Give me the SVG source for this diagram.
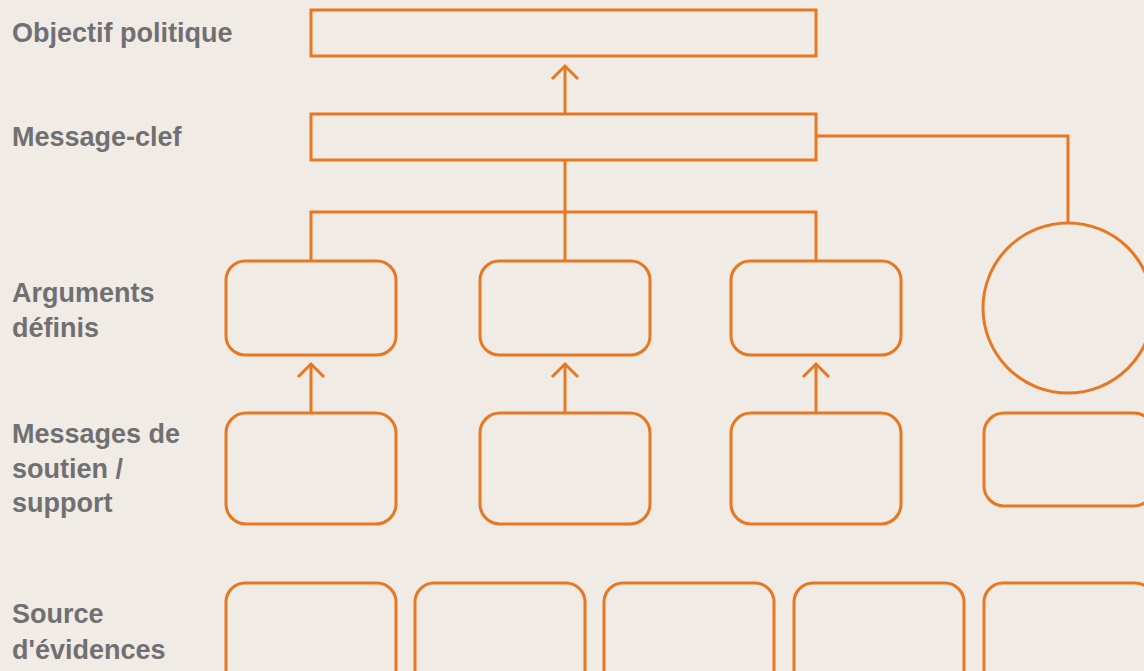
<svg xmlns="http://www.w3.org/2000/svg" width="1144" height="671" viewBox="0 0 1144 671">
<style>
.n{fill:none;stroke:#e87722;stroke-width:3}
.c{fill:none;stroke:#e87722;stroke-width:3}
.t{font-family:"Liberation Sans",Arial,sans-serif;font-weight:bold;font-size:27px;fill:#707072}
</style>
<rect width="1144" height="671" fill="#f0ebe5"/>
<g id="labels">
<text class="t" x="12" y="42">Objectif politique</text>
<text class="t" x="12" y="146">Message-clef</text>
<text class="t" x="12" y="302">Arguments</text>
<text class="t" x="12" y="337">définis</text>
<text class="t" x="12" y="443">Messages de</text>
<text class="t" x="12" y="478">soutien /</text>
<text class="t" x="12" y="512">support</text>
<text class="t" x="12" y="623">Source</text>
<text class="t" x="12" y="659">d'évidences</text>
</g>
<g id="objectif"><rect class="n" x="311" y="10" width="505" height="46"/></g>
<g id="message-clef"><rect class="n" x="311" y="114" width="505" height="46"/></g>
<g id="arg1"><rect class="n" x="226" y="261" width="170" height="94" rx="19"/></g>
<g id="arg2"><rect class="n" x="480" y="261" width="170" height="94" rx="19"/></g>
<g id="arg3"><rect class="n" x="731" y="261" width="170" height="94" rx="19"/></g>
<g id="circle"><circle class="n" cx="1068" cy="308" r="85"/></g>
<g id="msg1"><rect class="n" x="226" y="413" width="170" height="111" rx="20"/></g>
<g id="msg2"><rect class="n" x="480" y="413" width="170" height="111" rx="20"/></g>
<g id="msg3"><rect class="n" x="731" y="413" width="170" height="111" rx="20"/></g>
<g id="msg4"><rect class="n" x="984" y="413" width="170" height="93" rx="20"/></g>
<g id="src1"><rect class="n" x="226" y="583" width="170" height="110" rx="19"/></g>
<g id="src2"><rect class="n" x="415" y="583" width="170" height="110" rx="19"/></g>
<g id="src3"><rect class="n" x="604" y="583" width="170" height="110" rx="19"/></g>
<g id="src4"><rect class="n" x="794" y="583" width="170" height="110" rx="19"/></g>
<g id="src5"><rect class="n" x="984" y="583" width="170" height="110" rx="19"/></g>
<g id="connectors">
<line class="c" x1="565" y1="114" x2="565" y2="66"/>
<polyline class="c" points="552,79 565,66 578,79"/>
<line class="c" x1="565" y1="160" x2="565" y2="261"/>
<polyline class="c" points="311,261 311,212 816,212 816,261"/>
<polyline class="c" points="816,136 1068,136 1068,223"/>
<line class="c" x1="311" y1="413" x2="311" y2="364"/>
<polyline class="c" points="298,377 311,364 324,377"/>
<line class="c" x1="565" y1="413" x2="565" y2="364"/>
<polyline class="c" points="552,377 565,364 578,377"/>
<line class="c" x1="816" y1="413" x2="816" y2="364"/>
<polyline class="c" points="803,377 816,364 829,377"/>
</g>
</svg>
